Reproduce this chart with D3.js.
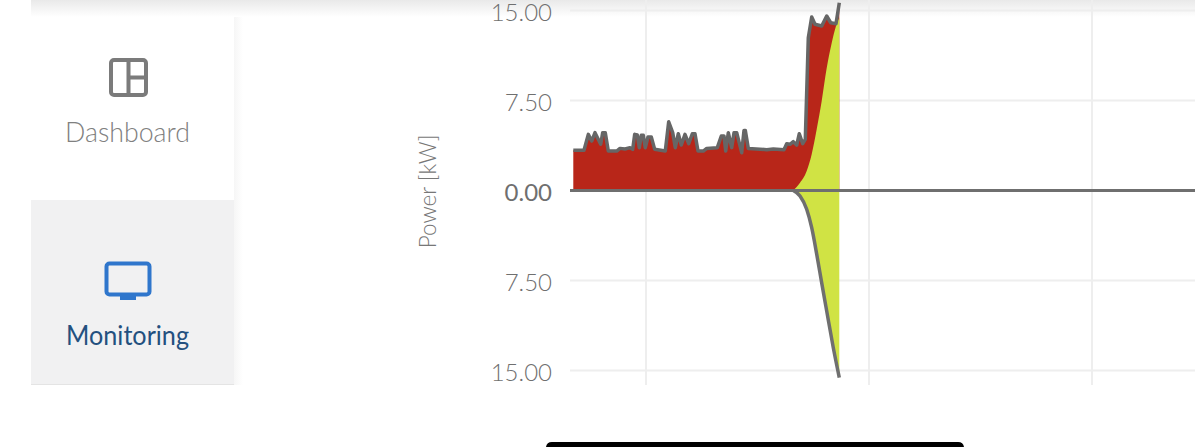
<!DOCTYPE html>
<html>
<head>
<meta charset="utf-8">
<script src="https://cdn.jsdelivr.net/npm/d3@7"></script>
<style>
  html, body { margin: 0; padding: 0; background: #fff; overflow: hidden; }
  svg { display: block; font-family: Lato, "Open Sans", sans-serif; }
</style>
</head>
<body>
<svg id="view" width="1195" height="447"></svg>
<script>
// Minutes-like elapsed time, measured from the first vertical gridline
const gridTimes = [0, 223, 446];
const powerTicks = [15, 7.5, 0, -7.5, -15];

const loadTime = [-72.7,-62,-57.7,-54.3,-51,-45.3,-43.3,-40.7,-37.7,-29.3,-26,-21,-16,-13.3,-11.3,-8.7,-6.7,-4.7,-2.7,-0.7,2,5.3,8.7,19.3,22.7,26.7,29.3,32.3,35.3,39,42.7,46.3,49,52,57.3,60.7,71.3,75.3,78,79.7,82.3,85.7,88,90.7,95.7,98,99.3,102.3,120.7,127.3,138,140.7,144,147.3,150.7,153.3,156.7,159.3,162.3,165.7,169,175.7,180.7,184.7,190,193.3];
const loadKw = [3.35,3.35,4.68,4.12,4.82,3.85,4.82,4.82,3.29,3.29,3.51,3.46,3.57,3.43,4.68,4.62,3.57,4.6,4.6,3.57,4.46,4.46,3.43,3.29,5.73,4.82,3.57,4.73,3.79,4.68,3.9,4.73,4.73,3.29,3.29,3.51,3.57,4.54,4.54,3.29,4.82,3.57,4.82,4.82,3.15,5.01,5.01,3.51,3.4,3.46,3.4,3.9,3.85,4.07,3.79,4.73,3.9,4.26,12.73,14.46,13.85,13.71,14.54,13.98,13.9,15.65];

const solarTime = [147.3,154,160.7,165.7,170.7,175.7,180.7,185.7,190,193.3];
const solarKw = [0,0.65,1.63,3.03,5.1,7.46,10.2,12.3,13.7,14.4];

const exportTime = [147.3,154,160.7,165.7,170.7,175.7,180.7,187.3,193.3];
const exportKw = [0,-0.46,-1.56,-3.1,-5.3,-7.7,-10.04,-13.1,-15.6];

const navLabels = ["Dashboard", "Monitoring"];
const navWidths = [125, 123];
const axisTitle = "Power [kW]";

const svg = d3.select("#view");
const defs = svg.append("defs");

const topShade = defs.append("linearGradient").attr("id", "topShade")
  .attr("x1", 0).attr("x2", 0).attr("y1", 0).attr("y2", 1);
topShade.append("stop").attr("offset", 0).attr("stop-color", "#e9e9e9");
topShade.append("stop").attr("offset", 1).attr("stop-color", "#ffffff");

const sideShade = defs.append("linearGradient").attr("id", "sideShade");
sideShade.append("stop").attr("offset", 0).attr("stop-color", "#f6f6f6");
sideShade.append("stop").attr("offset", 1).attr("stop-color", "#ffffff");

// Page chrome behind the chart
svg.append("rect").attr("x", 234).attr("y", 0).attr("width", 9).attr("height", 385).attr("fill", "url(#sideShade)");
svg.append("rect").attr("x", 31).attr("y", 200).attr("width", 203).attr("height", 184).attr("fill", "#f1f1f2");
svg.append("rect").attr("x", 31).attr("y", 384).attr("width", 203).attr("height", 1).attr("fill", "#e4e4e4");
svg.append("rect").attr("x", 31).attr("y", 0).attr("width", 1164).attr("height", 17).attr("fill", "url(#topShade)");

// Dashboard icon
const dash = svg.append("g").attr("fill", "none").attr("stroke", "#7b7b7b").attr("stroke-width", 4);
dash.append("rect").attr("x", 111).attr("y", 60).attr("width", 35).attr("height", 35).attr("rx", 3);
dash.append("path").attr("d", "M128.5 60V95M128.5 77.5H146");

// Monitor icon
const mon = svg.append("g");
mon.append("rect").attr("x", 106.5).attr("y", 263.5).attr("width", 43).attr("height", 31).attr("rx", 3)
  .attr("fill", "none").attr("stroke", "#2f76cc").attr("stroke-width", 4);
mon.append("rect").attr("x", 120).attr("y", 295).attr("width", 16).attr("height", 5).attr("fill", "#2f76cc");

svg.selectAll("text.nav").data(navLabels).join("text")
  .attr("class", "nav")
  .attr("x", 127.5)
  .attr("y", (d, i) => i === 0 ? 142 : 345)
  .attr("text-anchor", "middle")
  .attr("font-size", 27)
  .attr("font-weight", (d, i) => i === 0 ? 300 : 400)
  .attr("textLength", (d, i) => navWidths[i])
  .attr("lengthAdjust", "spacingAndGlyphs")
  .attr("fill", (d, i) => i === 0 ? "#808080" : "#23507f")
  .text(d => d);

// Chart scales
const x = d3.scaleLinear().domain([-76, 549]).range([570, 1195]);
const y = d3.scaleLinear().domain([15, -15]).range([10.5, 370.5]);

const chart = svg.append("g");

// Gridlines
chart.append("g").selectAll("line").data(powerTicks).join("line")
  .attr("x1", 570).attr("x2", 1195)
  .attr("y1", d => y(d)).attr("y2", d => y(d))
  .attr("stroke", "#eeeeee").attr("stroke-width", 2);
chart.append("g").selectAll("line").data(gridTimes).join("line")
  .attr("x1", d => x(d)).attr("x2", d => x(d))
  .attr("y1", 0).attr("y2", 385)
  .attr("stroke", "#eeeeee").attr("stroke-width", 2);

// Power axis
const yAxis = d3.axisLeft(y).tickValues(powerTicks).tickSize(0).tickPadding(0)
  .tickFormat(d => Math.abs(d).toFixed(2));
const axisG = chart.append("g").attr("transform", "translate(552,1)").call(yAxis);
axisG.select(".domain").remove();
axisG.selectAll("text")
  .attr("font-family", "Lato, 'Open Sans', sans-serif")
  .attr("font-size", 24)
  .attr("font-weight", d => d === 0 ? 400 : 300)
  .attr("fill", "#6f6f6f")
  .attr("dy", "0.36em");

chart.append("text")
  .attr("transform", "translate(436,191.5) rotate(-90)")
  .attr("text-anchor", "middle")
  .attr("font-size", 22.5)
  .attr("font-weight", 300)
  .attr("fill", "#777777")
  .text(axisTitle);

const rows = (ts, vs) => ts.map((t, i) => ({ t, v: vs[i] }));
const load = rows(loadTime, loadKw);
const solar = rows(solarTime, solarKw);
const feed = rows(exportTime, exportKw);

const areaOf = curve => d3.area().x(d => x(d.t)).y0(y(0)).y1(d => y(d.v)).curve(curve);
const lineOf = curve => d3.line().x(d => x(d.t)).y(d => y(d.v)).curve(curve);

// Filled power flows
chart.append("path").datum(load).attr("d", areaOf(d3.curveLinear)).attr("fill", "#b82619");
chart.append("path").datum(solar).attr("d", areaOf(d3.curveMonotoneX)).attr("fill", "#d0e344");
chart.append("path").datum(feed).attr("d", areaOf(d3.curveMonotoneX)).attr("fill", "#d0e344");

// Zero baseline and outlines
chart.append("line")
  .attr("x1", 570).attr("x2", 1195).attr("y1", y(0)).attr("y2", y(0))
  .attr("stroke", "#6f6f6f").attr("stroke-width", 3);
chart.append("path").datum(load).attr("d", lineOf(d3.curveLinear))
  .attr("fill", "none").attr("stroke", "#666666").attr("stroke-width", 3.5).attr("stroke-linejoin", "round");
chart.append("path").datum(feed).attr("d", lineOf(d3.curveMonotoneX))
  .attr("fill", "none").attr("stroke", "#6f6f6f").attr("stroke-width", 3.5);

// Home indicator at the foot of the screen
svg.append("path").attr("d", "M546 447V448H964V447A6 6 0 0 0 958 442H552A6 6 0 0 0 546 447Z").attr("fill", "#000");
</script>
</body>
</html>
